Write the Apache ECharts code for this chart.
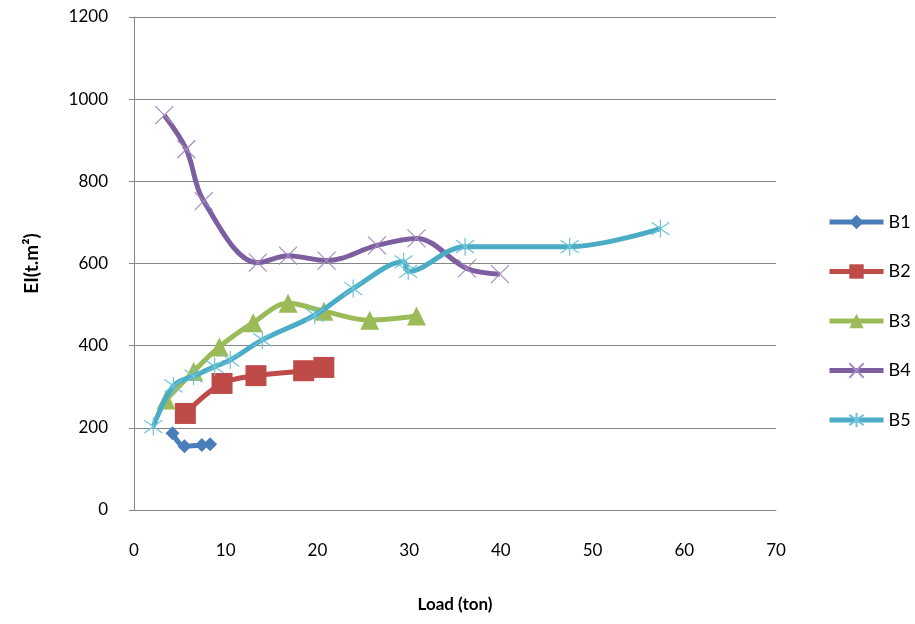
<!DOCTYPE html>
<html><head><meta charset="utf-8">
<script src="https://cdn.jsdelivr.net/npm/echarts@6/dist/echarts.min.js"></script>
<style>html,body{margin:0;padding:0;background:#fff}#c{width:915px;height:624px}</style>
</head><body><div id="c"></div>
<script>
var seriesNames = ['B1','B2','B3','B4','B5'];
var B1 = [[4.2,187],[5.5,155],[7.4,158],[8.3,160]];
var B2 = [[5.6,235],[9.6,308],[13.3,327],[18.5,339],[20.7,347]];
var B3 = [[3.5,268],[6.5,337],[9.3,397],[13.0,456],[16.8,503],[20.7,484],[25.7,462],[30.8,472]];
var B4 = [[3.3,961],[5.7,878],[7.6,752],[13.5,602],[16.8,619],[21.0,607],[26.5,644],[30.8,661],[36.3,588],[39.9,574]];
var B5 = [[2.1,203],[4.3,302],[6.5,326],[8.8,349],[10.5,365],[14.0,414],[19.7,474],[23.9,539],[29.4,604],[29.9,581],[36.1,641],[47.5,641],[57.4,685]];
var xTicks = [0,10,20,30,40,50,60,70];
var yTicks = [0,200,400,600,800,1000,1200];

var FONT = 'Lato';
var colors = ['#4A7EBB','#BE4B48','#9BBB59','#7D5FA0','#4BACC6'];
var symbols = [
  'diamond',
  'rect',
  'triangle',
  'path://M0,0L10,10M10,0L0,10',
  'path://M0,0L10,10M10,0L0,10M5,-2L5,12'
];
var symbolSizes = [14, 21, 19, 18, 18];
var data = [B1,B2,B3,B4,B5];
var series = data.map(function(d,i){
  var isPath = i >= 3;
  return {
    name: seriesNames[i], type: 'line', data: d,
    smooth: 0.35,
    symbol: symbols[i], symbolSize: symbolSizes[i],
    lineStyle: {color: colors[i], width: 5},
    itemStyle: isPath ? {color: colors[i], borderColor: i===3 ? '#A48CC2' : '#6FC3DA', borderWidth: 1.2}
                      : {color: colors[i], borderWidth: 0},
    emphasis: {disabled: true},
    z: 2 + i
  };
});

var chart = echarts.init(document.getElementById('c'));
chart.setOption({
  animation: false,
  backgroundColor: '#fff',
  grid: {left: 134, top: 17, right: 139, bottom: 114, containLabel: false},
  legend: {
    orient: 'vertical', left: 822, top: 208, padding: 5,
    itemWidth: 54, itemHeight: 18, itemGap: 31.5,
    lineStyle: {width: 5},
    textStyle: {fontFamily: FONT, fontSize: 18, color: '#000'},
    data: seriesNames
  },
  xAxis: {
    type: 'value', min: 0, max: 70, interval: 10,
    name: 'Load (ton)', nameLocation: 'middle', nameGap: 86,
    nameTextStyle: {fontFamily: FONT, fontSize: 17, fontWeight: 'bold', color: '#000'},
    axisLine: {show: true, lineStyle: {color: '#868686', width: 1}},
    axisTick: {show: false},
    splitLine: {show: false},
    axisLabel: {margin: 32, fontFamily: FONT, fontSize: 17, color: '#000',
      formatter: function(v){ return xTicks.indexOf(v) >= 0 ? String(v) : ''; }}
  },
  yAxis: {
    type: 'value', min: 0, max: 1200, interval: 200,
    name: 'EI(t.m²)', nameLocation: 'middle', nameGap: 93,
    nameTextStyle: {fontFamily: FONT, fontSize: 19, fontWeight: 'bold', color: '#000'},
    axisLine: {show: true, lineStyle: {color: '#868686', width: 1}},
    axisTick: {show: true, length: 5, lineStyle: {color: '#868686'}},
    splitLine: {show: true, lineStyle: {color: '#868686', width: 1}},
    axisLabel: {margin: 26, fontFamily: FONT, fontSize: 17, color: '#000',
      formatter: function(v){ return yTicks.indexOf(v) >= 0 ? String(v) : ''; }}
  },
  series: series
});
</script></body></html>
